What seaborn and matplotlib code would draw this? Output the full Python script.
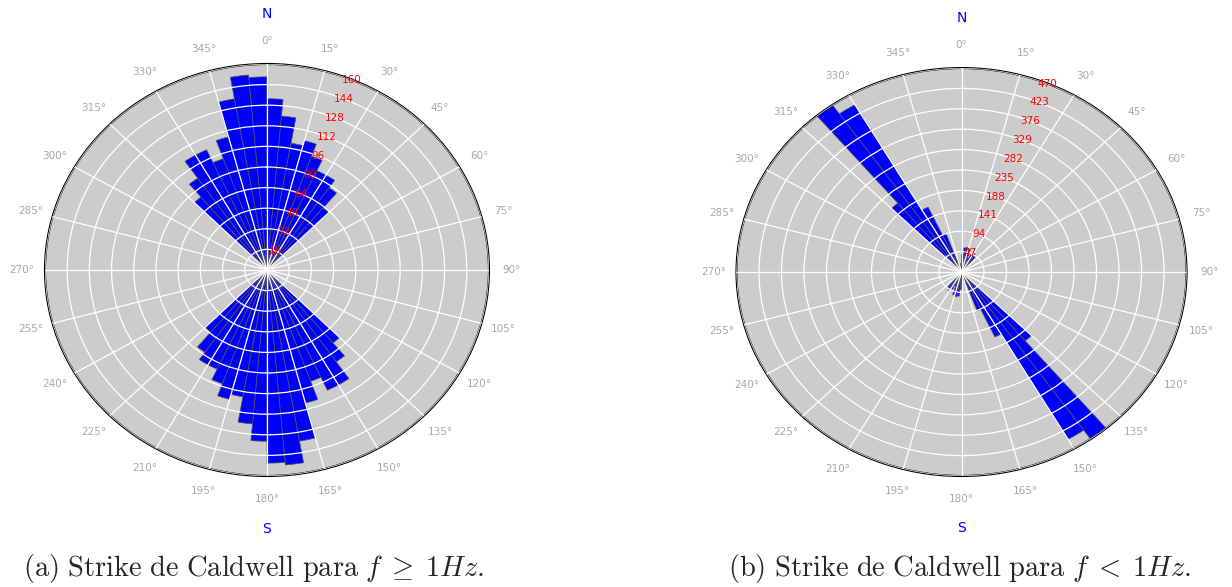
import numpy as np
import matplotlib
matplotlib.use('Agg')
import matplotlib.pyplot as plt
import seaborn as sns

# strike counts in 5 degree bins from 0 to 180 (the rose repeats them from 180 to 360)
bin_centers = np.arange(2.5, 180, 5)
strike_high = [133, 120, 100, 104, 94, 85, 85, 78, 63,
               4, 3, 2, 3, 2, 2, 3, 2, 2, 2, 3, 2, 2, 3, 2, 3, 3, 4,
               74, 87, 103, 103, 92, 107, 135, 152, 150]
strike_low = [40, 56, 58, 55, 35, 45, 50, 45, 20,
              8, 6, 5, 4, 6, 5, 4, 3, 5, 6, 4, 5, 3, 4, 6, 5, 8, 12,
              207, 470, 445, 165, 95, 30, 15, 12, 20]

rings_high = [16, 32, 48, 64, 80, 96, 112, 128, 144, 160]
rings_low = [47, 94, 141, 188, 235, 282, 329, 376, 423, 470]
theta_ticks = list(range(0, 360, 15))

captions = [r'$\mathrm{(a)\ Strike\ de\ Caldwell\ para}\ f\;\geq\;1Hz.$',
            r'$\mathrm{(b)\ Strike\ de\ Caldwell\ para}\ f\;<\;1Hz.$']

sns.set_theme(style='darkgrid', rc={'axes.facecolor': '#cccccc', 'grid.color': 'white'})
plt.rcParams['font.family'] = ['DejaVu Sans']
plt.rcParams['mathtext.fontset'] = 'cm'

fig = plt.figure(figsize=(12.32, 5.87), dpi=100)
fig.patch.set_facecolor('white')

panels = [
    (strike_high, rings_high, [0.0365, 0.1891, 0.3604, 0.7019], captions[0], 0.206),
    (strike_low, rings_low, [0.5978, 0.1891, 0.3653, 0.6950], captions[1], 0.779),
]

for half, rings, rect, caption, cx in panels:
    ax = fig.add_axes(rect, projection='polar')
    ax.set_aspect('auto')
    counts = np.concatenate([half, half])
    angles = np.deg2rad(np.concatenate([bin_centers, bin_centers + 180]))
    ax.bar(angles, counts, width=np.deg2rad(5), bottom=0.0,
           color='blue', edgecolor='#555555', linewidth=0.5, zorder=1)
    ax.set_theta_zero_location('N')
    ax.set_theta_direction(-1)
    ax.set_thetagrids(theta_ticks, labels=[f'{t}°' for t in theta_ticks],
                      color='#a8a8a8', fontsize=7.5)
    ax.set_rgrids(rings, labels=[str(r) for r in rings], angle=22.5,
                  color='red', fontsize=7.5)
    ax.set_ylim(0, rings[-1])
    ax.set_axisbelow(False)
    ax.grid(True, color='white', linewidth=0.9)
    ax.spines['polar'].set_color('black')
    ax.spines['polar'].set_linewidth(1.5)
    ax.tick_params(axis='x', pad=3.5)
    for lbl in ax.get_yticklabels():
        lbl.set_horizontalalignment('center')
        lbl.set_verticalalignment('center')

    ax.text(0.5, 1.122, 'N', transform=ax.transAxes, ha='center', va='center',
            color='blue', fontsize=10)
    ax.text(0.5, -0.128, 'S', transform=ax.transAxes, ha='center', va='center',
            color='blue', fontsize=10)
    fig.text(cx, 0.032, caption, ha='center', va='center', fontsize=20.5)

fig.savefig('out.png', dpi=100, facecolor='white')
